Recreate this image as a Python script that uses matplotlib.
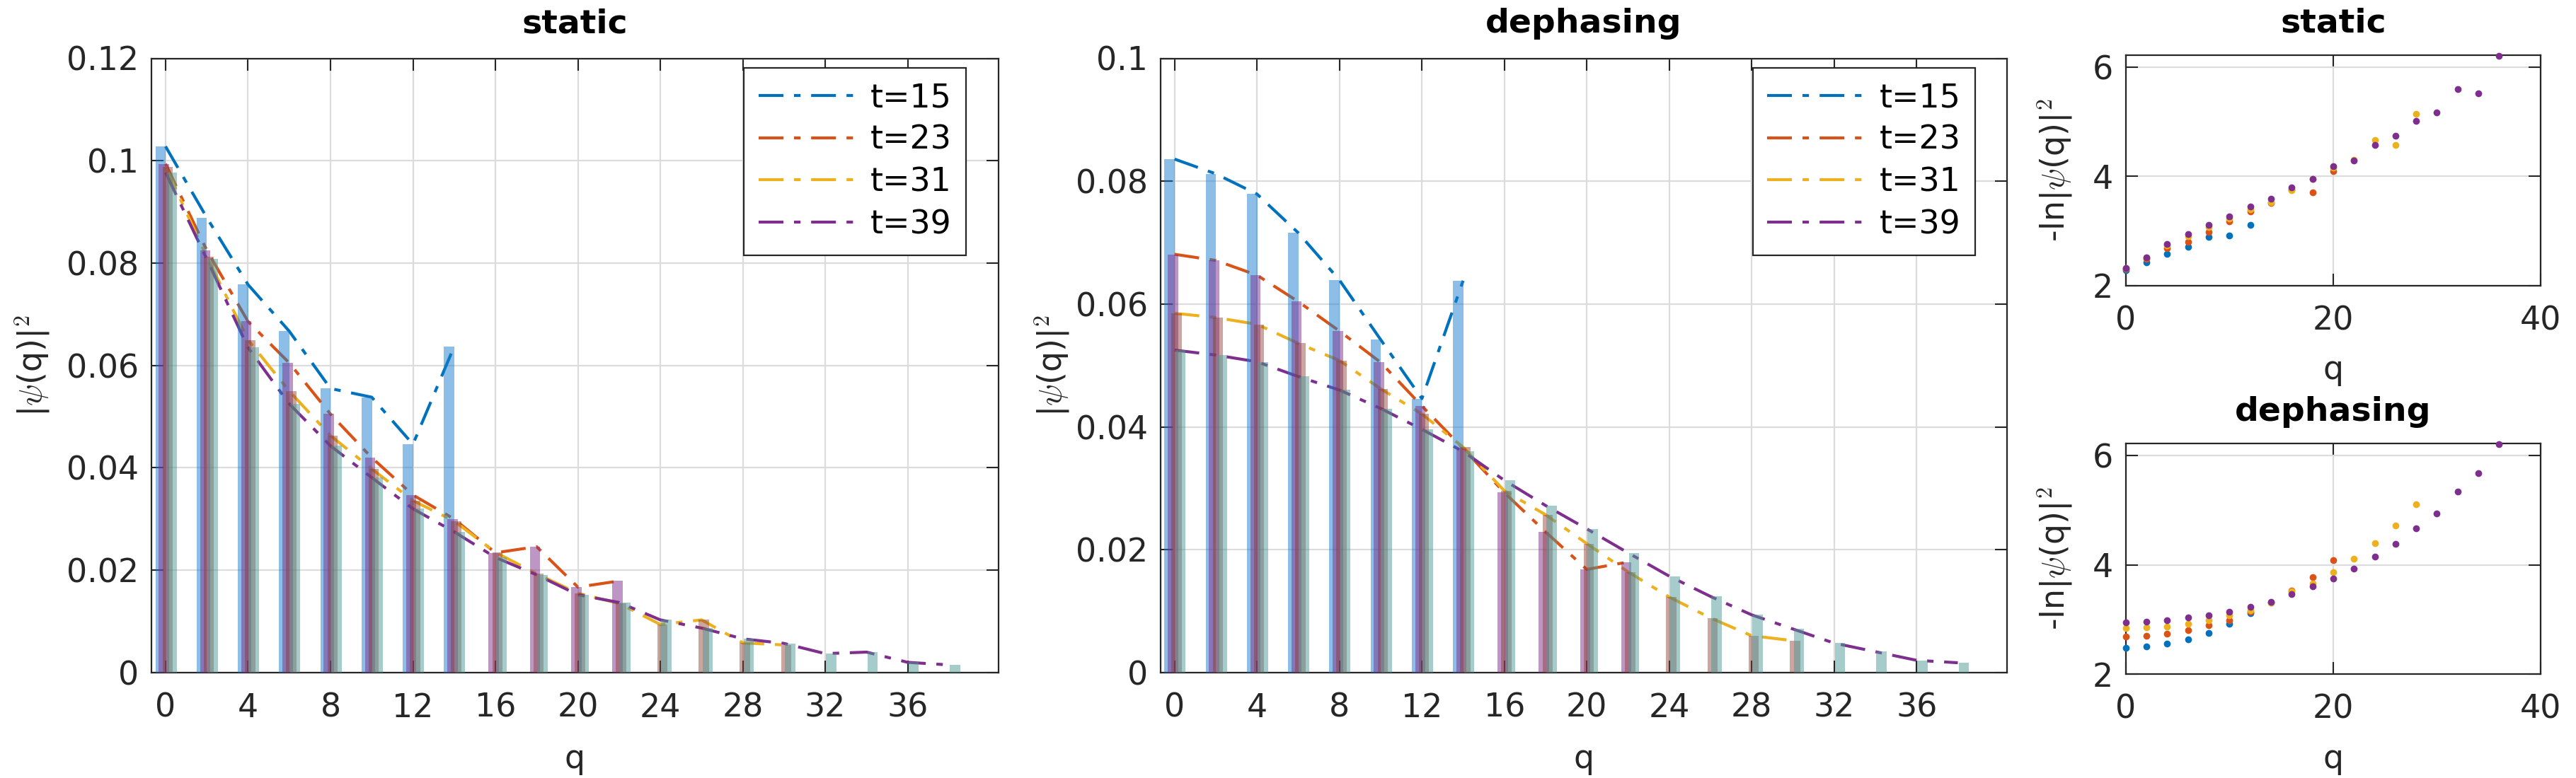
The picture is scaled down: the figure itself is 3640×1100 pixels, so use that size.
import matplotlib
matplotlib.use('Agg')
import matplotlib.pyplot as plt
import numpy as np
from matplotlib.ticker import FuncFormatter

plt.rcParams['font.family'] = 'DejaVu Sans'
plt.rcParams['mathtext.fontset'] = 'cm'

# legend labels, one per time
labels = ['t=15', 't=23', 't=31', 't=39']

# |psi(q)|^2, static case, q = 0, 2, 4, ...
static_15 = [0.1028, 0.0889, 0.0758, 0.0667, 0.0555, 0.0538, 0.0446, 0.0637]
static_23 = [0.0994, 0.0825, 0.0686, 0.0605, 0.0505, 0.0420, 0.0347, 0.0300,
             0.0234, 0.0246, 0.0167, 0.0179]
static_31 = [0.0988, 0.0812, 0.0650, 0.0550, 0.0463, 0.0398, 0.0336, 0.0296,
             0.0235, 0.0193, 0.0155, 0.0135, 0.0094, 0.0103, 0.0058, 0.0054]
static_39 = [0.0977, 0.0808, 0.0635, 0.0525, 0.0443, 0.0381, 0.0320, 0.0275,
             0.0225, 0.0191, 0.0152, 0.0137, 0.0103, 0.0087, 0.0066, 0.0057,
             0.0037, 0.0040, 0.0020, 0.0015]

# |psi(q)|^2, dephasing case
deph_15 = [0.0836, 0.0812, 0.0779, 0.0716, 0.0639, 0.0542, 0.0446, 0.0638]
deph_23 = [0.0681, 0.0671, 0.0647, 0.0604, 0.0556, 0.0505, 0.0434, 0.0365,
           0.0293, 0.0229, 0.0168, 0.0180]
deph_31 = [0.0585, 0.0578, 0.0567, 0.0536, 0.0508, 0.0462, 0.0421, 0.0367,
           0.0296, 0.0257, 0.0210, 0.0164, 0.0123, 0.0089, 0.0060, 0.0052]
deph_39 = [0.0525, 0.0517, 0.0506, 0.0482, 0.0460, 0.0430, 0.0396, 0.0360,
           0.0313, 0.0272, 0.0234, 0.0195, 0.0157, 0.0124, 0.0094, 0.0071,
           0.0048, 0.0034, 0.0020, 0.0016]

static = [static_15, static_23, static_31, static_39]
deph = [deph_15, deph_23, deph_31, deph_39]

line_colors = ['#0072BD', '#D95319', '#EDB120', '#7E2F8E']
bar_colors = ['#1a7fd0', '#7e2f8e', '#8c3a2e', '#4d9999']
bar_alpha = [0.5, 0.5, 0.45, 0.5]
bar_offsets = [-0.24, -0.08, 0.1, 0.29]
dashdot = (0, (8.4, 3.6, 2.2, 3.6))
FS = 33
ink = '#262626'

fig = plt.figure(figsize=(36.41, 11), dpi=100)


def style(ax):
    ax.grid(True, color='#dcdcdc', linewidth=1.6)
    ax.set_axisbelow(True)
    ax.tick_params(direction='in', length=12, width=1.5, top=True, right=True,
                   labelsize=FS, colors=ink)
    ax.tick_params(axis='x', pad=20)
    ax.tick_params(axis='y', pad=13)
    for s in ax.spines.values():
        s.set_linewidth(1.6)
        s.set_color(ink)


def bar_panel(rect, data, ymax, yticks, title, ylab_x):
    ax = fig.add_axes(rect)
    for k, vals in enumerate(data):
        q = np.arange(len(vals)) * 2
        ax.plot(q, vals, color=line_colors[k], linewidth=3, linestyle=dashdot,
                label=labels[k], zorder=2.5)
    for k, vals in enumerate(data):
        q = np.arange(len(vals)) * 2
        ax.bar(q + bar_offsets[k], vals, width=0.5, color=bar_colors[k],
               alpha=bar_alpha[k], linewidth=0, zorder=3)
    ax.set_xlim(-0.68, 40.4)
    ax.set_ylim(0, ymax)
    ax.set_xticks(np.arange(0, 37, 4))
    ax.set_yticks(yticks)
    ax.yaxis.set_major_formatter(FuncFormatter(lambda v, p: '%g' % v))
    style(ax)
    ax.set_xlabel('q', fontsize=FS, color=ink)
    ax.xaxis.set_label_coords(0.5, -0.115)
    ax.set_ylabel(r'|$\psi$(q)|$^2$', fontsize=FS, color=ink)
    ax.yaxis.set_label_coords(ylab_x, 0.5)
    ax.text(0.5, 1.03, title, transform=ax.transAxes, ha='center', va='bottom',
            fontsize=FS + 1, fontweight='bold', color='black')
    leg = ax.legend(loc='upper right', bbox_to_anchor=(0.962, 0.985),
                    borderaxespad=0, fontsize=FS, handlelength=3.0,
                    handletextpad=0.45, borderpad=0.45, labelspacing=0.32,
                    fancybox=False, framealpha=1, edgecolor=ink)
    leg.get_frame().set_linewidth(1.6)
    return ax


def log_panel(rect, data, title):
    ax = fig.add_axes(rect)
    for k, vals in enumerate(data):
        q = np.arange(len(vals)) * 2
        v = np.array(vals)
        ax.plot(q[:-1], -np.log(v[:-1]), 'o', color=line_colors[k],
                markersize=7, markeredgewidth=0, zorder=3, clip_on=False)
    ax.set_xlim(0, 40)
    ax.set_ylim(2, 6.22)
    ax.set_xticks([0, 20, 40])
    ax.set_yticks([2, 4, 6])
    style(ax)
    ax.set_xlabel('q', fontsize=FS, color=ink)
    ax.xaxis.set_label_coords(0.5, -0.3)
    ax.set_ylabel(r'-ln|$\psi$(q)|$^2$', fontsize=FS, color=ink)
    ax.yaxis.set_label_coords(-0.125, 0.5)
    ax.text(0.5, 1.07, title, transform=ax.transAxes, ha='center', va='bottom',
            fontsize=FS + 1, fontweight='bold', color='black')
    return ax


bar_panel([0.0588, 0.1355, 0.3287, 0.7895], static, 0.12,
          np.arange(0, 0.121, 0.02), 'static', -0.118)
bar_panel([0.4504, 0.1355, 0.3286, 0.7895], deph, 0.1,
          np.arange(0, 0.101, 0.02), 'dephasing', -0.105)
log_panel([0.825, 0.633, 0.161, 0.296], static, 'static')
log_panel([0.825, 0.1336, 0.161, 0.296], deph, 'dephasing')

fig.savefig('out.png', dpi=100)
